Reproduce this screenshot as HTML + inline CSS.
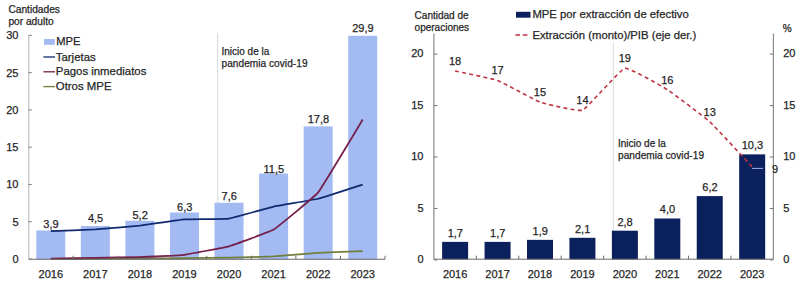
<!DOCTYPE html>
<html><head><meta charset="utf-8"><style>
html,body{margin:0;padding:0;background:#fff;width:802px;height:283px;overflow:hidden}
svg{display:block}
text{font-family:"Liberation Sans", sans-serif;fill:#262626;stroke:#262626;stroke-width:0.25px}
</style></head><body>
<svg width="802" height="283" viewBox="0 0 802 283">
<text x="8.4" y="12.7" font-size="10.2">Cantidades</text>
<text x="8.4" y="24.8" font-size="10.2">por adulto</text>
<line x1="217.7" y1="33" x2="217.7" y2="259.25" stroke="#d9d9d9" stroke-width="1"/>
<rect x="36.28" y="230.47" width="29" height="29.08" fill="#a3bbf2"/>
<rect x="80.84" y="225.98" width="29" height="33.57" fill="#a3bbf2"/>
<rect x="125.41" y="220.74" width="29" height="38.81" fill="#a3bbf2"/>
<rect x="169.97" y="212.50" width="29" height="47.05" fill="#a3bbf2"/>
<rect x="214.53" y="202.76" width="29" height="56.79" fill="#a3bbf2"/>
<rect x="259.09" y="173.56" width="29" height="85.99" fill="#a3bbf2"/>
<rect x="303.66" y="126.38" width="29" height="133.17" fill="#a3bbf2"/>
<rect x="348.22" y="35.76" width="29" height="223.79" fill="#a3bbf2"/>
<text x="221.5" y="54.7" font-size="10">Inicio de la</text>
<text x="221.5" y="66.8" font-size="10.1" textLength="86">pandemia covid-19</text>
<path d="M50.78,259.25 C52.56,259.24 91.78,258.91 95.34,258.88 C98.91,258.85 136.34,258.53 139.91,258.50 C143.47,258.47 180.90,258.17 184.47,258.13 C188.03,258.09 225.47,257.67 229.03,257.61 C232.60,257.54 270.03,256.67 273.59,256.49 C277.16,256.30 314.59,253.19 318.16,252.98 C321.72,252.76 360.94,251.11 362.72,251.03" fill="none" stroke="#727f3c" stroke-width="1.75"/>
<path d="M50.78,231.24 C52.56,231.16 91.78,229.59 95.34,229.37 C98.91,229.15 136.34,226.04 139.91,225.63 C143.47,225.23 180.90,219.57 184.47,219.29 C188.03,219.00 225.47,219.05 229.03,218.54 C232.60,218.03 270.03,207.38 273.59,206.59 C277.16,205.79 314.59,199.62 318.16,198.74 C321.72,197.86 360.94,185.12 362.72,184.55" fill="none" stroke="#102a6e" stroke-width="1.75"/>
<path d="M50.78,258.50 C52.56,258.47 91.78,257.82 95.34,257.76 C98.91,257.70 136.34,257.13 139.91,257.01 C143.47,256.89 180.90,255.20 184.47,254.77 C188.03,254.34 225.47,247.33 229.03,246.33 C232.60,245.32 270.03,231.75 273.59,229.59 C277.16,227.44 314.59,196.79 318.16,192.39 C321.72,187.99 360.94,122.47 362.72,119.56" fill="none" stroke="#761f4a" stroke-width="1.75"/>
<path d="M28.8,35.4 V259.25" fill="none" stroke="#b4b4b4" stroke-width="1"/>
<path d="M28.8,259.25 H385.0" fill="none" stroke="#6a6a6a" stroke-width="1"/>
<line x1="28.5" y1="259.00" x2="31.8" y2="259.00" stroke="#808080" stroke-width="1"/>
<text x="18.5" y="262.90" font-size="11" text-anchor="end">0</text>
<line x1="28.5" y1="221.72" x2="31.8" y2="221.72" stroke="#808080" stroke-width="1"/>
<text x="18.5" y="225.62" font-size="11" text-anchor="end">5</text>
<line x1="28.5" y1="184.45" x2="31.8" y2="184.45" stroke="#808080" stroke-width="1"/>
<text x="18.5" y="188.35" font-size="11" text-anchor="end">10</text>
<line x1="28.5" y1="147.18" x2="31.8" y2="147.18" stroke="#808080" stroke-width="1"/>
<text x="18.5" y="151.08" font-size="11" text-anchor="end">15</text>
<line x1="28.5" y1="109.90" x2="31.8" y2="109.90" stroke="#808080" stroke-width="1"/>
<text x="18.5" y="113.80" font-size="11" text-anchor="end">20</text>
<line x1="28.5" y1="72.62" x2="31.8" y2="72.62" stroke="#808080" stroke-width="1"/>
<text x="18.5" y="76.53" font-size="11" text-anchor="end">25</text>
<line x1="28.5" y1="35.35" x2="31.8" y2="35.35" stroke="#808080" stroke-width="1"/>
<text x="18.5" y="39.25" font-size="11" text-anchor="end">30</text>
<line x1="73.06" y1="259.25" x2="73.06" y2="255.75" stroke="#6a6a6a" stroke-width="1"/>
<line x1="117.62" y1="259.25" x2="117.62" y2="255.75" stroke="#6a6a6a" stroke-width="1"/>
<line x1="162.19" y1="259.25" x2="162.19" y2="255.75" stroke="#6a6a6a" stroke-width="1"/>
<line x1="206.75" y1="259.25" x2="206.75" y2="255.75" stroke="#6a6a6a" stroke-width="1"/>
<line x1="251.31" y1="259.25" x2="251.31" y2="255.75" stroke="#6a6a6a" stroke-width="1"/>
<line x1="295.88" y1="259.25" x2="295.88" y2="255.75" stroke="#6a6a6a" stroke-width="1"/>
<line x1="340.44" y1="259.25" x2="340.44" y2="255.75" stroke="#6a6a6a" stroke-width="1"/>
<line x1="385.00" y1="259.25" x2="385.00" y2="255.75" stroke="#6a6a6a" stroke-width="1"/>
<text x="50.78" y="277.5" font-size="11" text-anchor="middle">2016</text>
<text x="95.34" y="277.5" font-size="11" text-anchor="middle">2017</text>
<text x="139.91" y="277.5" font-size="11" text-anchor="middle">2018</text>
<text x="184.47" y="277.5" font-size="11" text-anchor="middle">2019</text>
<text x="229.03" y="277.5" font-size="11" text-anchor="middle">2020</text>
<text x="273.59" y="277.5" font-size="11" text-anchor="middle">2021</text>
<text x="318.16" y="277.5" font-size="11" text-anchor="middle">2022</text>
<text x="362.72" y="277.5" font-size="11" text-anchor="middle">2023</text>
<text x="50.98" y="227.50" font-size="11" text-anchor="middle">3,9</text>
<text x="95.54" y="222.40" font-size="11" text-anchor="middle">4,5</text>
<text x="140.11" y="218.50" font-size="11" text-anchor="middle">5,2</text>
<text x="184.67" y="210.70" font-size="11" text-anchor="middle">6,3</text>
<text x="229.23" y="199.90" font-size="11" text-anchor="middle">7,6</text>
<text x="273.79" y="172.80" font-size="11" text-anchor="middle">11,5</text>
<text x="318.36" y="122.50" font-size="11" text-anchor="middle">17,8</text>
<text x="362.92" y="31.75" font-size="11" text-anchor="middle">29,9</text>
<rect x="44" y="39" width="10.8" height="5.8" fill="#a3bbf2"/>
<text x="56.3" y="45.3" font-size="11.2">MPE</text>
<line x1="43.4" y1="57.00" x2="55" y2="57.00" stroke="#102a6e" stroke-width="1.3"/>
<text x="55.8" y="60.60" font-size="11.4">Tarjetas</text>
<line x1="43.4" y1="71.80" x2="55" y2="71.80" stroke="#761f4a" stroke-width="1.3"/>
<text x="55.8" y="75.40" font-size="11.4">Pagos inmediatos</text>
<line x1="43.4" y1="86.60" x2="55" y2="86.60" stroke="#727f3c" stroke-width="1.3"/>
<text x="55.8" y="90.20" font-size="11.4">Otros MPE</text>
<text x="414.6" y="19.2" font-size="10">Cantidad de</text>
<text x="414.6" y="31.4" font-size="10">operaciones</text>
<text x="782.8" y="31.5" font-size="10">%</text>
<line x1="613.3" y1="43" x2="613.3" y2="259.2" stroke="#d9d9d9" stroke-width="1"/>
<rect x="442.12" y="241.88" width="26" height="17.52" fill="#0b215d"/>
<rect x="484.56" y="241.88" width="26" height="17.52" fill="#0b215d"/>
<rect x="526.99" y="239.85" width="26" height="19.55" fill="#0b215d"/>
<rect x="569.43" y="237.81" width="26" height="21.59" fill="#0b215d"/>
<rect x="611.87" y="230.69" width="26" height="28.71" fill="#0b215d"/>
<rect x="654.31" y="218.48" width="26" height="40.92" fill="#0b215d"/>
<rect x="696.74" y="196.09" width="26" height="63.31" fill="#0b215d"/>
<rect x="739.18" y="154.37" width="26" height="105.03" fill="#0b215d"/>
<text x="618" y="147" font-size="10">Inicio de la</text>
<text x="618" y="159" font-size="10.1" textLength="86">pandemia covid-19</text>
<path d="M455.12,71.05 C457.24,71.52 493.31,78.90 497.56,80.45 C501.80,82.01 535.75,100.63 539.99,102.12 C544.24,103.61 578.19,111.88 582.43,110.19 C586.67,108.50 620.62,69.32 624.87,68.29 C629.11,67.26 663.06,86.98 667.31,89.65 C671.55,92.32 705.50,117.88 709.74,121.74 C713.99,125.60 750.06,164.56 752.18,166.81" fill="none" stroke="#bd3340" stroke-width="1.6" stroke-dasharray="4 3.2"/>
<line x1="752" y1="168.4" x2="763" y2="168.4" stroke="#9fb3e8" stroke-width="1"/>
<path d="M433.9,33.5 V259.2 M773.4,259.2 V33.5" fill="none" stroke="#8c8c8c" stroke-width="1.2"/>
<path d="M433.9,259.2 H773.4" fill="none" stroke="#6a6a6a" stroke-width="1"/>
<line x1="433.9" y1="259.90" x2="437.4" y2="259.90" stroke="#707070" stroke-width="1"/>
<line x1="773.4" y1="259.90" x2="769.9" y2="259.90" stroke="#707070" stroke-width="1"/>
<text x="423.5" y="263.20" font-size="11" text-anchor="end">0</text>
<text x="783.2" y="263.20" font-size="11">0</text>
<line x1="433.9" y1="208.45" x2="437.4" y2="208.45" stroke="#707070" stroke-width="1"/>
<line x1="773.4" y1="208.45" x2="769.9" y2="208.45" stroke="#707070" stroke-width="1"/>
<text x="423.5" y="211.75" font-size="11" text-anchor="end">5</text>
<text x="783.2" y="211.75" font-size="11">5</text>
<line x1="433.9" y1="157.00" x2="437.4" y2="157.00" stroke="#707070" stroke-width="1"/>
<line x1="773.4" y1="157.00" x2="769.9" y2="157.00" stroke="#707070" stroke-width="1"/>
<text x="423.5" y="160.30" font-size="11" text-anchor="end">10</text>
<text x="783.2" y="160.30" font-size="11">10</text>
<line x1="433.9" y1="105.55" x2="437.4" y2="105.55" stroke="#707070" stroke-width="1"/>
<line x1="773.4" y1="105.55" x2="769.9" y2="105.55" stroke="#707070" stroke-width="1"/>
<text x="423.5" y="108.85" font-size="11" text-anchor="end">15</text>
<text x="783.2" y="108.85" font-size="11">15</text>
<line x1="433.9" y1="54.10" x2="437.4" y2="54.10" stroke="#707070" stroke-width="1"/>
<line x1="773.4" y1="54.10" x2="769.9" y2="54.10" stroke="#707070" stroke-width="1"/>
<text x="423.5" y="57.40" font-size="11" text-anchor="end">20</text>
<text x="783.2" y="57.40" font-size="11">20</text>
<line x1="476.34" y1="259.2" x2="476.34" y2="255.7" stroke="#6a6a6a" stroke-width="1"/>
<line x1="518.77" y1="259.2" x2="518.77" y2="255.7" stroke="#6a6a6a" stroke-width="1"/>
<line x1="561.21" y1="259.2" x2="561.21" y2="255.7" stroke="#6a6a6a" stroke-width="1"/>
<line x1="603.65" y1="259.2" x2="603.65" y2="255.7" stroke="#6a6a6a" stroke-width="1"/>
<line x1="646.09" y1="259.2" x2="646.09" y2="255.7" stroke="#6a6a6a" stroke-width="1"/>
<line x1="688.52" y1="259.2" x2="688.52" y2="255.7" stroke="#6a6a6a" stroke-width="1"/>
<line x1="730.96" y1="259.2" x2="730.96" y2="255.7" stroke="#6a6a6a" stroke-width="1"/>
<text x="455.12" y="277.5" font-size="11" text-anchor="middle">2016</text>
<text x="497.56" y="277.5" font-size="11" text-anchor="middle">2017</text>
<text x="539.99" y="277.5" font-size="11" text-anchor="middle">2018</text>
<text x="582.43" y="277.5" font-size="11" text-anchor="middle">2019</text>
<text x="624.87" y="277.5" font-size="11" text-anchor="middle">2020</text>
<text x="667.31" y="277.5" font-size="11" text-anchor="middle">2021</text>
<text x="709.74" y="277.5" font-size="11" text-anchor="middle">2022</text>
<text x="752.18" y="277.5" font-size="11" text-anchor="middle">2023</text>
<text x="455.32" y="236.70" font-size="11" text-anchor="middle">1,7</text>
<text x="497.76" y="236.60" font-size="11" text-anchor="middle">1,7</text>
<text x="540.19" y="235.20" font-size="11" text-anchor="middle">1,9</text>
<text x="582.63" y="232.70" font-size="11" text-anchor="middle">2,1</text>
<text x="625.07" y="225.90" font-size="11" text-anchor="middle">2,8</text>
<text x="667.51" y="213.40" font-size="11" text-anchor="middle">4,0</text>
<text x="709.94" y="190.60" font-size="11" text-anchor="middle">6,2</text>
<text x="752.38" y="149.30" font-size="11" text-anchor="middle">10,3</text>
<text x="455.12" y="65.05" font-size="11" text-anchor="middle">18</text>
<text x="497.56" y="74.45" font-size="11" text-anchor="middle">17</text>
<text x="539.99" y="96.12" font-size="11" text-anchor="middle">15</text>
<text x="582.43" y="104.19" font-size="11" text-anchor="middle">14</text>
<text x="624.87" y="62.29" font-size="11" text-anchor="middle">19</text>
<text x="667.31" y="83.65" font-size="11" text-anchor="middle">16</text>
<text x="709.74" y="115.74" font-size="11" text-anchor="middle">13</text>
<text x="772" y="172.5" font-size="11">9</text>
<rect x="516" y="11.8" width="14.5" height="5.9" fill="#0b215d"/>
<text x="532.4" y="17.8" font-size="11.3">MPE por extracción de efectivo</text>
<line x1="515.4" y1="35" x2="527.6" y2="35" stroke="#bd3340" stroke-width="1.7" stroke-dasharray="4.6 2.8"/>
<text x="532.4" y="38.5" font-size="11.3">Extracción (monto)/PIB (eje der.)</text>
</svg>
</body></html>
